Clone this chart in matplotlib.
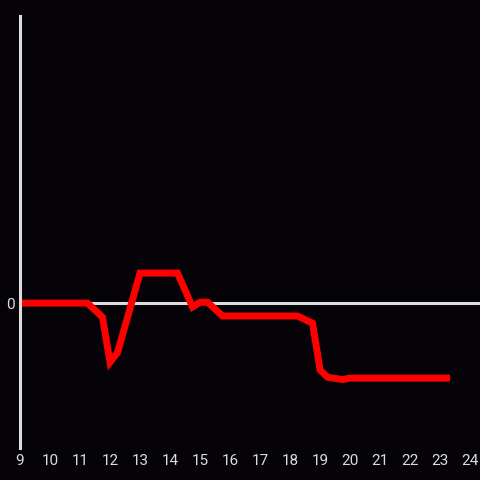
import matplotlib
matplotlib.use('Agg')
from matplotlib import pyplot as plt

plt.rcParams['font.family'] = ['Roboto', 'DejaVu Sans']

hours = [9, 11.25, 11.75, 12.0, 12.25, 13.0, 14.25, 14.75, 15.0, 15.25, 15.75,
         18.25, 18.75, 19.0, 19.25, 19.75, 20.0, 23.33]
values = [0, 0, -0.47, -1.97, -1.65, 1.0, 1.0, -0.13, 0.03, 0.03, -0.43,
          -0.43, -0.67, -2.23, -2.47, -2.55, -2.5, -2.5]
xticks = list(range(9, 25))

bg = '#050308'
fg = '#dcdcdc'

fig = plt.figure(figsize=(4.8, 4.8), dpi=100, facecolor=bg)
ax = fig.add_axes([20 / 480, 32 / 480, 460 / 480, 432 / 480])
ax.set_facecolor(bg)

ax.axhline(0, color=fg, lw=2.2, zorder=1)
ax.plot(hours, values, color='#ff0000', lw=5, solid_joinstyle='miter',
        solid_capstyle='butt', zorder=2)

ax.set_xlim(9, 24.33)
ax.set_ylim(-4.83, 9.57)
ax.set_xticks(xticks)
ax.set_yticks([0])

for s in ['top', 'right', 'bottom']:
    ax.spines[s].set_visible(False)
ax.spines['left'].set_color(fg)
ax.spines['left'].set_linewidth(2.2)

ax.tick_params(length=0, colors=fg, labelsize=11)
ax.tick_params(axis='x', pad=4)
ax.tick_params(axis='y', pad=4)

plt.savefig('out.png', dpi=100, facecolor=bg)
